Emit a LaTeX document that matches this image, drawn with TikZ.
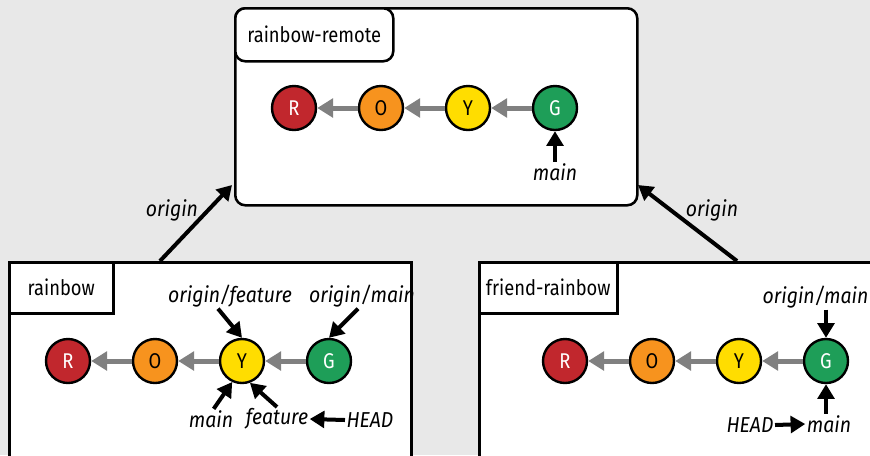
\documentclass[tikz,border=0pt]{standalone}
\usepackage{fontspec}
\setmainfont{Fira Sans}[FakeStretch=0.86, ItalicFeatures={FakeStretch=0.9}]
\usetikzlibrary{arrows.meta, positioning}
\definecolor{bggray}{RGB}{232, 232, 232}
\definecolor{commitred}{RGB}{193, 39, 45}
\definecolor{commitorange}{RGB}{247, 147, 30}
\definecolor{commityellow}{RGB}{255, 221, 0}
\definecolor{commitgreen}{RGB}{30, 158, 88}
\definecolor{linkgray}{RGB}{128, 128, 128}

\begin{document}
\begin{tikzpicture}[
    x=0.75pt, y=-0.75pt,
    node distance=30.45pt,
    commit/.style={circle, draw, line width=1.8pt, minimum size=33pt, inner sep=0pt, font=\fontsize{16}{19}\selectfont},
    repo/.style={rectangle, draw, fill=white, line width=1.9pt, anchor=north west},
    tab/.style={rectangle, draw, fill=white, line width=1.9pt, anchor=north west, font=\fontsize{16}{19}\selectfont},
    ref/.style={font=\fontsize{16.2}{19}\selectfont\itshape, inner sep=1pt},
    parent/.style={-{Triangle[length=12pt, width=14pt]}, linkgray, line width=3.75pt},
    pointer/.style={-{Triangle[length=11pt, width=12.5pt]}, line width=3pt}
]
\useasboundingbox (0,0) rectangle (870,455);
\fill[bggray] (0,0) rectangle (870,455);
\clip (0,0) rectangle (870,455);

% remote
\node[repo, rounded corners=7.5pt, minimum width=301.5pt, minimum height=147.75pt] (remote) at (234,7) {};
\node[tab, rounded corners=7.5pt, minimum width=118.5pt, minimum height=39.75pt] (remotetab) at (234,7) {rainbow-remote};
\node[commit, fill=commitred, text=white] (tr) at (294,108) {R};
\node[commit, fill=commitorange, right=of tr] (to) {O};
\node[commit, fill=commityellow, right=of to] (ty) {Y};
\node[commit, fill=commitgreen, text=white, right=of ty] (tg) {G};
\draw[parent] (to) -- (tr);
\draw[parent] (ty) -- (to);
\draw[parent] (tg) -- (ty);
\node[ref, below=23pt of tg] (tmain) {main};
\draw[pointer] (tmain) -- (tg);

% rainbow
\node[repo, minimum width=301.5pt, minimum height=195pt] (rainbow) at (8,261) {};
\node[tab, minimum width=78pt, minimum height=38.25pt] (rainbowtab) at (8,261) {rainbow};
\node[commit, fill=commitred, text=white] (lr) at (68,361) {R};
\node[commit, fill=commitorange, right=of lr] (lo) {O};
\node[commit, fill=commityellow, right=of lo] (ly) {Y};
\node[commit, fill=commitgreen, text=white, right=of ly] (lg) {G};
\draw[parent] (lo) -- (lr);
\draw[parent] (ly) -- (lo);
\draw[parent] (lg) -- (ly);
\node[ref] (lofeat) at (230,296) {origin/feature};
\node[ref] (lomain) at (362,296) {origin/main};
\node[ref] (lmain) at (211,419) {main};
\node[ref] (lfeat) at (277,419) {feature};
\node[ref] (lhead) at (370,420) {HEAD};
\draw[pointer] ([xshift=-9pt]lofeat.south) -- (ly.north);
\draw[pointer] ([xshift=-3pt]lomain.south) -- (lg.north);
\draw[pointer] ([xshift=2pt]lmain.north) -- (ly.245);
\draw[pointer] (lfeat.north) -- (ly.290);
\draw[pointer] (lhead.west) -- (lfeat.east);

% friend-rainbow
\node[repo, minimum width=316.5pt, minimum height=195pt] (friend) at (478,261) {};
\node[tab, minimum width=103.5pt, minimum height=38.25pt] (friendtab) at (478,261) {friend-rainbow};
\node[commit, fill=commitred, text=white] (rr) at (565,361) {R};
\node[commit, fill=commitorange, right=of rr] (ro) {O};
\node[commit, fill=commityellow, right=of ro] (ry) {Y};
\node[commit, fill=commitgreen, text=white, right=of ry] (rg) {G};
\draw[parent] (ro) -- (rr);
\draw[parent] (ry) -- (ro);
\draw[parent] (rg) -- (ry);
\node[ref, anchor=east] (romain) at (870,297) {origin/main};
\node[ref] (rmain) at (829,424) {main};
\node[ref] (rhead) at (750,425) {HEAD};
\draw[pointer] (rg.north |- romain.south) -- (rg.north);
\draw[pointer] (rg.south |- rmain.north) -- (rg.south);
\draw[pointer] (rhead.east) -- (rmain.west);

% origin links
\coordinate (lfoot) at (160,261);
\coordinate (lhook) at (232,185);
\coordinate (rfoot) at (737,261);
\coordinate (rhook) at (638,185);
\draw[pointer] (lfoot) -- (lhook);
\draw[pointer] (rfoot) -- (rhook);
\node[ref] (lorigin) at (172,210) {origin};
\node[ref] (rorigin) at (712,210) {origin};
\end{tikzpicture}
\end{document}
